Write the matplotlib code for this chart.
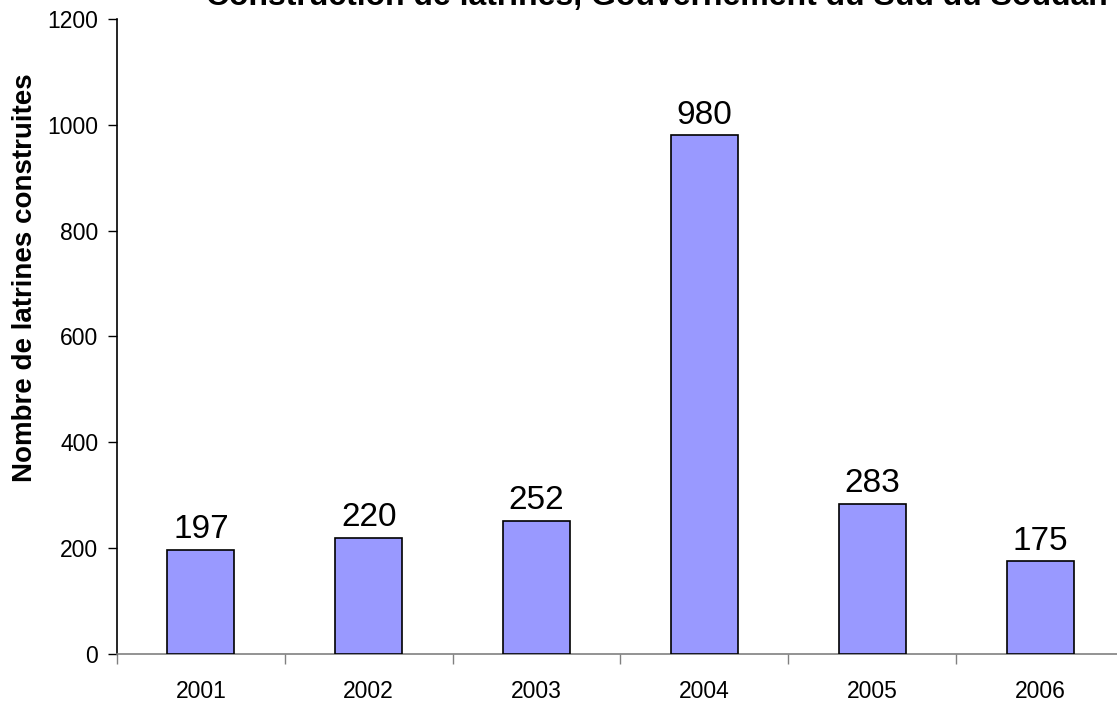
import matplotlib
matplotlib.use('Agg')
import matplotlib.pyplot as plt
import numpy as np

plt.rcParams['font.family'] = ['Liberation Sans', 'DejaVu Sans']

'''data'''
years = ['2001', '2002', '2003', '2004', '2005', '2006']
latrines = [197, 220, 252, 980, 283, 175]

'''figure'''
fig = plt.figure(figsize=(11.17, 7.07), dpi=100)
ax = fig.add_axes([0.1047, 0.075, 0.9016, 0.8981])

x = np.arange(len(years))
bars = ax.bar(x, latrines, width=0.4, color='#9999FF', edgecolor='black', linewidth=1.2, zorder=3)

for xi, v in zip(x, latrines):
    ax.annotate(str(v), (xi, v), xytext=(0, 3.5), textcoords='offset points',
                ha='center', va='bottom', fontsize=24)

ax.set_xlim(-0.5, len(years) - 0.5)
ax.set_ylim(0, 1200)
ax.set_yticks(range(0, 1201, 200))
ax.tick_params(axis='y', direction='out', length=6.5, width=1, labelsize=16.5, pad=7)

# year labels at bar centres, tick marks between categories
ax.set_xticks(x)
ax.set_xticklabels(years)
ax.set_xticks(np.arange(-0.5, len(years), 1), minor=True)
ax.tick_params(axis='x', which='major', length=0, labelsize=16.5, pad=19)
ax.tick_params(axis='x', which='minor', direction='out', length=7, width=1, color='#808080')

for side in ['top', 'right']:
    ax.spines[side].set_visible(False)
ax.spines['bottom'].set_color('#808080')
ax.spines['bottom'].set_linewidth(1.2)
ax.spines['left'].set_linewidth(1.2)

fig.text(0.0224, 0.6075, 'Nombre de latrines construites', rotation=90,
         ha='center', va='center', fontsize=20, fontweight='bold')
fig.text(0.5877, 0.993, 'Construction de latrines, Gouvernement du Sud du Soudan',
         ha='center', va='baseline', fontsize=23, fontweight='bold')

plt.savefig('out.png', dpi=100)
